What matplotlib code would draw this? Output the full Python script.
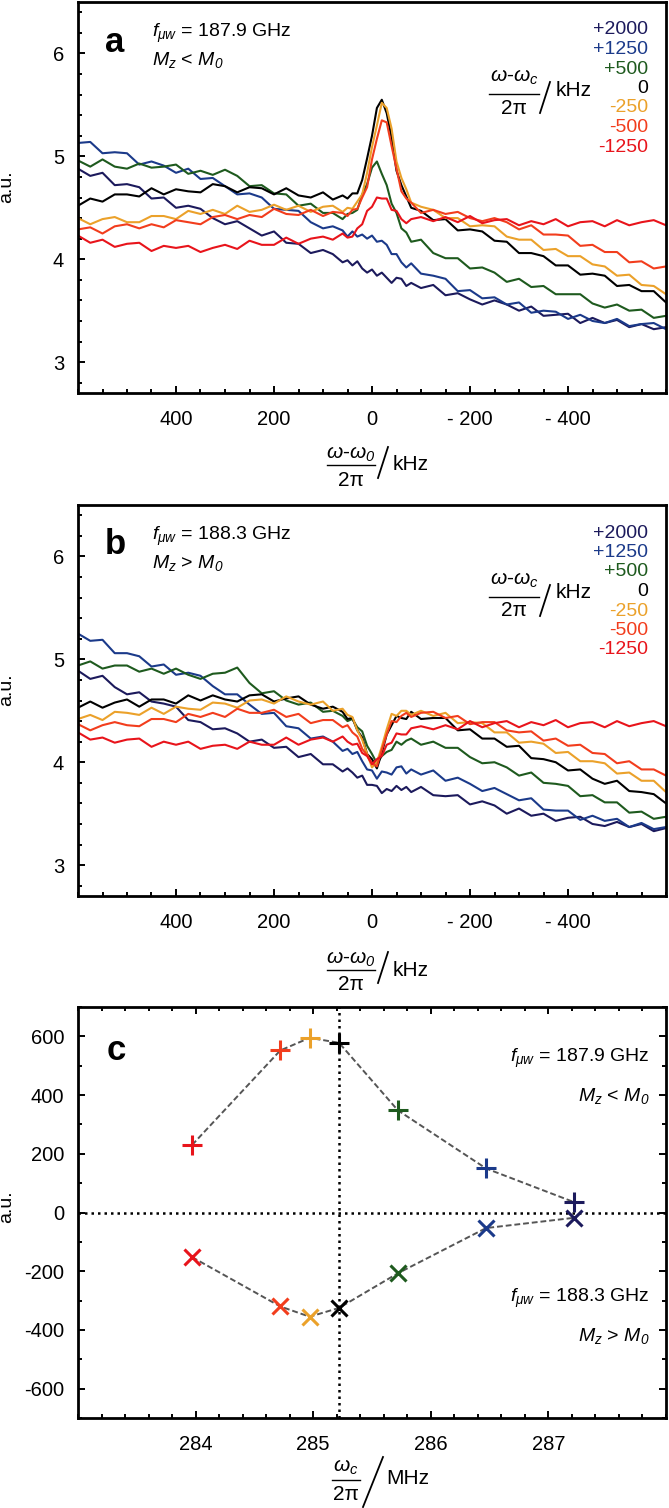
import matplotlib
matplotlib.use("Agg")
import matplotlib.pyplot as plt
from matplotlib.lines import Line2D
from matplotlib.ticker import FixedLocator, MultipleLocator

plt.rcParams["font.family"] = "Liberation Sans"
plt.rcParams["mathtext.fontset"] = "custom"
plt.rcParams["mathtext.rm"] = "Liberation Sans"
plt.rcParams["mathtext.it"] = "Liberation Sans:italic"
plt.rcParams["mathtext.bf"] = "Liberation Sans:bold"
plt.rcParams["mathtext.cal"] = "Liberation Sans:italic"
plt.rcParams["axes.unicode_minus"] = False

W, H = 669, 1508

OFFSET_LABELS = ["+2000", "+1250", "+500", "0", "-250", "-500", "-1250"]
COLORS = ["#1c1a5c", "#1b3a8a", "#1e5a1e", "#000000", "#eba12a", "#f23d1d", "#e8141b"]

# detuning of the probe, kHz
FREQ_KHZ = [600, 575, 550, 525, 500, 475, 450, 425, 400, 375,
            350, 325, 300, 275, 250, 225, 200, 175, 150, 125,
            100, 80, 60, 50, 40, 30, 20, 10, 0, -10,
            -20, -30, -40, -50, -60, -70, -80, -100, -125, -150,
            -175, -200, -225, -250, -275, -300, -325, -350, -375, -400,
            -425, -450, -475, -500, -525, -550, -575, -600]

# panel a, f = 187.9 GHz
A_P2000 = [4.88, 4.81, 4.84, 4.72, 4.73, 4.70, 4.59, 4.60, 4.50, 4.52,
           4.49, 4.40, 4.34, 4.37, 4.30, 4.23, 4.27, 4.16, 4.15, 4.06,
           4.09, 4.05, 3.97, 3.99, 3.94, 3.98, 3.91, 3.87, 3.90, 3.84,
           3.87, 3.82, 3.77, 3.82, 3.81, 3.74, 3.77, 3.72, 3.75, 3.65,
           3.67, 3.61, 3.56, 3.60, 3.56, 3.50, 3.54, 3.45, 3.46, 3.47,
           3.38, 3.43, 3.38, 3.41, 3.34, 3.37, 3.32, 3.34]
A_P1250 = [5.13, 5.14, 5.03, 5.04, 5.03, 4.92, 4.95, 4.91, 4.84, 4.88,
           4.78, 4.79, 4.71, 4.63, 4.64, 4.60, 4.49, 4.48, 4.47, 4.36,
           4.30, 4.32, 4.28, 4.22, 4.27, 4.22, 4.24, 4.20, 4.23, 4.17,
           4.18, 4.14, 4.05, 4.05, 3.97, 3.92, 3.96, 3.86, 3.84, 3.81,
           3.69, 3.70, 3.62, 3.63, 3.56, 3.58, 3.48, 3.50, 3.49, 3.42,
           3.46, 3.40, 3.38, 3.42, 3.35, 3.37, 3.38, 3.32]
A_P500 = [4.96, 4.90, 4.97, 4.90, 4.88, 4.93, 4.89, 4.90, 4.92, 4.83,
          4.86, 4.82, 4.87, 4.81, 4.71, 4.72, 4.64, 4.63, 4.52, 4.54,
          4.45, 4.45, 4.39, 4.44, 4.45, 4.48, 4.63, 4.73, 4.89, 4.95,
          4.83, 4.72, 4.54, 4.45, 4.30, 4.26, 4.17, 4.19, 4.06, 4.01,
          4.01, 3.91, 3.92, 3.87, 3.78, 3.81, 3.73, 3.74, 3.66, 3.66,
          3.66, 3.57, 3.53, 3.56, 3.50, 3.51, 3.43, 3.45]
A_0 = [4.52, 4.59, 4.56, 4.63, 4.63, 4.61, 4.69, 4.63, 4.68, 4.66,
       4.65, 4.73, 4.71, 4.65, 4.70, 4.69, 4.63, 4.69, 4.62, 4.60,
       4.65, 4.58, 4.62, 4.59, 4.64, 4.64, 4.77, 4.98, 5.20, 5.47,
       5.55, 5.42, 5.18, 4.86, 4.72, 4.61, 4.50, 4.47, 4.38, 4.39,
       4.28, 4.29, 4.27, 4.18, 4.17, 4.06, 4.06, 4.03, 3.94, 3.94,
       3.85, 3.86, 3.84, 3.74, 3.75, 3.69, 3.69, 3.58]
A_M250 = [4.40, 4.34, 4.39, 4.41, 4.36, 4.36, 4.42, 4.42, 4.39, 4.47,
          4.44, 4.48, 4.44, 4.52, 4.46, 4.48, 4.53, 4.48, 4.52, 4.46,
          4.51, 4.52, 4.46, 4.50, 4.49, 4.56, 4.63, 4.84, 5.09, 5.30,
          5.52, 5.47, 5.27, 4.95, 4.79, 4.68, 4.55, 4.51, 4.48, 4.40,
          4.40, 4.32, 4.33, 4.32, 4.22, 4.19, 4.19, 4.09, 4.10, 4.03,
          4.03, 3.95, 3.93, 3.84, 3.85, 3.75, 3.74, 3.66]
A_M500 = [4.29, 4.31, 4.25, 4.32, 4.34, 4.30, 4.34, 4.31, 4.38, 4.36,
          4.34, 4.41, 4.43, 4.39, 4.43, 4.41, 4.49, 4.44, 4.43, 4.48,
          4.42, 4.46, 4.45, 4.42, 4.48, 4.49, 4.60, 4.70, 4.97, 5.17,
          5.35, 5.33, 5.10, 4.88, 4.66, 4.59, 4.55, 4.45, 4.48, 4.44,
          4.46, 4.40, 4.37, 4.40, 4.36, 4.29, 4.33, 4.24, 4.24, 4.23,
          4.13, 4.14, 4.07, 4.07, 3.97, 3.98, 3.91, 3.93]
A_M1250 = [4.23, 4.16, 4.19, 4.12, 4.15, 4.16, 4.08, 4.13, 4.11, 4.13,
           4.07, 4.11, 4.14, 4.10, 4.18, 4.14, 4.14, 4.21, 4.15, 4.20,
           4.22, 4.19, 4.25, 4.21, 4.22, 4.30, 4.34, 4.47, 4.51, 4.60,
           4.59, 4.59, 4.48, 4.47, 4.39, 4.35, 4.39, 4.41, 4.37, 4.41,
           4.36, 4.42, 4.35, 4.38, 4.39, 4.33, 4.37, 4.34, 4.39, 4.32,
           4.36, 4.37, 4.32, 4.38, 4.33, 4.36, 4.38, 4.33]

# panel b, f = 188.3 GHz
B_P2000 = [4.89, 4.81, 4.84, 4.73, 4.66, 4.68, 4.59, 4.57, 4.54, 4.41,
           4.39, 4.32, 4.33, 4.28, 4.20, 4.22, 4.14, 4.15, 4.05, 4.08,
           3.98, 3.98, 3.91, 3.94, 3.90, 3.85, 3.87, 3.78, 3.78, 3.77,
           3.70, 3.74, 3.72, 3.77, 3.73, 3.76, 3.71, 3.76, 3.68, 3.67,
           3.68, 3.59, 3.62, 3.58, 3.50, 3.55, 3.48, 3.50, 3.43, 3.46,
           3.47, 3.40, 3.38, 3.42, 3.37, 3.40, 3.33, 3.36]
B_P1250 = [5.25, 5.18, 5.19, 5.06, 5.06, 5.03, 4.93, 4.95, 4.85, 4.87,
           4.84, 4.74, 4.66, 4.66, 4.56, 4.47, 4.48, 4.35, 4.33, 4.23,
           4.25, 4.20, 4.11, 4.13, 4.08, 4.10, 4.01, 3.93, 3.92, 3.84,
           3.91, 3.90, 3.88, 3.95, 3.96, 3.89, 3.93, 3.88, 3.92, 3.82,
           3.85, 3.79, 3.72, 3.75, 3.69, 3.63, 3.65, 3.54, 3.53, 3.53,
           3.44, 3.48, 3.43, 3.45, 3.37, 3.41, 3.35, 3.37]
B_P500 = [4.94, 4.98, 4.91, 4.94, 4.94, 4.88, 4.91, 4.86, 4.91, 4.85,
          4.81, 4.86, 4.87, 4.92, 4.77, 4.67, 4.69, 4.60, 4.56, 4.58,
          4.49, 4.50, 4.45, 4.40, 4.42, 4.34, 4.30, 4.16, 4.08, 3.99,
          4.06, 4.10, 4.12, 4.20, 4.17, 4.21, 4.23, 4.17, 4.20, 4.14,
          4.14, 4.05, 3.99, 4.00, 3.95, 3.87, 3.90, 3.80, 3.79, 3.77,
          3.67, 3.68, 3.61, 3.61, 3.51, 3.52, 3.45, 3.47]
B_0 = [4.53, 4.59, 4.53, 4.58, 4.61, 4.54, 4.61, 4.61, 4.57, 4.65,
       4.60, 4.65, 4.61, 4.59, 4.65, 4.66, 4.59, 4.62, 4.64, 4.56,
       4.52, 4.54, 4.49, 4.42, 4.43, 4.31, 4.24, 4.08, 4.03, 3.94,
       4.09, 4.27, 4.36, 4.45, 4.43, 4.42, 4.49, 4.42, 4.43, 4.43,
       4.31, 4.32, 4.23, 4.23, 4.15, 4.16, 4.04, 4.03, 4.00, 3.92,
       3.93, 3.84, 3.79, 3.82, 3.72, 3.71, 3.69, 3.60]
B_M250 = [4.42, 4.46, 4.41, 4.49, 4.48, 4.46, 4.53, 4.47, 4.54, 4.52,
          4.51, 4.58, 4.57, 4.53, 4.60, 4.61, 4.57, 4.64, 4.59, 4.56,
          4.59, 4.50, 4.52, 4.46, 4.44, 4.31, 4.22, 4.08, 3.95, 4.00,
          4.15, 4.32, 4.47, 4.45, 4.50, 4.50, 4.46, 4.50, 4.45, 4.48,
          4.38, 4.39, 4.38, 4.29, 4.29, 4.19, 4.20, 4.18, 4.09, 4.10,
          4.01, 4.01, 3.99, 3.89, 3.90, 3.82, 3.82, 3.71]
B_M500 = [4.37, 4.31, 4.36, 4.39, 4.36, 4.35, 4.42, 4.42, 4.39, 4.47,
          4.44, 4.48, 4.44, 4.52, 4.48, 4.48, 4.51, 4.44, 4.47, 4.38,
          4.41, 4.41, 4.34, 4.36, 4.29, 4.25, 4.13, 4.07, 3.99, 3.96,
          4.12, 4.27, 4.40, 4.39, 4.45, 4.48, 4.44, 4.48, 4.49, 4.43,
          4.45, 4.37, 4.39, 4.39, 4.31, 4.29, 4.30, 4.21, 4.23, 4.16,
          4.17, 4.09, 4.08, 3.99, 4.01, 3.93, 3.93, 3.87]
B_M1250 = [4.29, 4.22, 4.24, 4.19, 4.22, 4.23, 4.15, 4.20, 4.17, 4.20,
           4.13, 4.16, 4.17, 4.13, 4.20, 4.17, 4.17, 4.24, 4.17, 4.22,
           4.24, 4.20, 4.25, 4.20, 4.17, 4.18, 4.09, 4.06, 3.98, 4.03,
           4.06, 4.17, 4.19, 4.28, 4.27, 4.27, 4.33, 4.35, 4.32, 4.36,
           4.32, 4.40, 4.34, 4.38, 4.40, 4.34, 4.39, 4.36, 4.41, 4.34,
           4.38, 4.39, 4.34, 4.40, 4.35, 4.38, 4.40, 4.35]

A_TRACES = [A_P2000, A_P1250, A_P500, A_0, A_M250, A_M500, A_M1250]
B_TRACES = [B_P2000, B_P1250, B_P500, B_0, B_M250, B_M500, B_M1250]

# panel c, peak / dip amplitude vs carrier frequency (MHz)
C_FREQ = [283.97, 284.72, 284.97, 285.22, 285.72, 286.47, 287.22]
C_UPPER = [230, 552, 595, 578, 348, 150, 35]
C_LOWER = [-152, -320, -355, -325, -207, -53, -18]
C_COLORS = ["#e8141b", "#f23d1d", "#eba12a", "#000000", "#1e5a1e", "#1b3a8a", "#1c1a5c"]
C_CENTER = 285.22

SPINE_W = 2.0


def px(x, y):
    return x / W, 1 - y / H


def axes_px(left, top, right, bottom):
    return [left / W, 1 - bottom / H, (right - left) / W, (bottom - top) / H]


def fraction(fig, xc, y_num, y_line, y_den, half, num, den, slash, unit, unit_xy):
    fig.text(*px(xc, y_num), num, ha="center", va="center", fontsize=15)
    fig.add_artist(Line2D([(xc - half) / W, (xc + half) / W], [1 - y_line / H] * 2,
                          transform=fig.transFigure, color="k", lw=1.0))
    fig.text(*px(xc, y_den), den, ha="center", va="center", fontsize=15)
    (x0, y0), (x1, y1) = slash
    fig.add_artist(Line2D([x0 / W, x1 / W], [1 - y0 / H, 1 - y1 / H],
                          transform=fig.transFigure, color="k", lw=1.3))
    fig.text(*px(*unit_xy), unit, ha="left", va="center", fontsize=15)


def style_axes(ax, all_sides):
    for sp in ax.spines.values():
        sp.set_linewidth(SPINE_W)
    ax.tick_params(which="both", direction="in", width=1.4, labelsize=14.5,
                   top=all_sides, right=all_sides)
    ax.tick_params(which="major", length=5)
    ax.tick_params(which="minor", length=3)
    ax.tick_params(axis="y", pad=10)
    ax.tick_params(axis="x", pad=12)


def spectrum_panel(fig, top, traces, letter, fline, mline, dy):
    ax = fig.add_axes(axes_px(78, top, 666, top + 391))
    for trace, color in zip(traces, COLORS):
        ax.plot(FREQ_KHZ, trace, color=color, lw=1.5)
    ax.set_xlim(600, -600)
    ax.set_ylim(2.7, 6.5)
    ax.xaxis.set_major_locator(FixedLocator([400, 200, 0, -200, -400]))
    ax.set_xticklabels(["400", "200", "0", "- 200", "- 400"])
    ax.xaxis.set_minor_locator(MultipleLocator(50))
    ax.yaxis.set_major_locator(FixedLocator([3, 4, 5, 6]))
    ax.yaxis.set_minor_locator(MultipleLocator(0.2))
    style_axes(ax, False)

    fig.text(*px(115, 42 + dy), letter, fontsize=25, fontweight="bold",
             ha="center", va="center")
    fig.text(*px(152, 37 + dy), fline, fontsize=14, ha="left", va="baseline")
    fig.text(*px(152, 65 + dy), mline, fontsize=14, ha="left", va="baseline")
    for i, (lab, color) in enumerate(zip(OFFSET_LABELS, COLORS)):
        fig.text(*px(648, 30 + 19.5 * i + dy), lab, color=color, fontsize=14,
                 ha="right", va="center")
    fraction(fig, 514, 77 + dy, 94 + dy, 108 + dy, 25,
             r"$\omega$-$\omega_c$", "2π", ((540, 113 + dy), (550, 82 + dy)),
             "kHz", (556, 90 + dy))
    fig.text(*px(7, 187 + dy), "a.u.", fontsize=14, rotation=90,
             ha="center", va="center")
    return ax


fig = plt.figure(figsize=(W / 100, H / 100), dpi=100)

spectrum_panel(fig, 2, A_TRACES, "a", r"$f_{\mu w}$ = 187.9 GHz",
               r"$M_z$ < $M_{\mathcal{0}}$", 0)
fraction(fig, 351, 454, 465, 480, 24, r"$\omega$-$\omega_{\mathcal{0}}$", "2π",
         ((378, 478), (388, 447)), "kHz", (393, 465))

spectrum_panel(fig, 505, B_TRACES, "b", r"$f_{\mu w}$ = 188.3 GHz",
               r"$M_z$ > $M_{\mathcal{0}}$", 503)
fraction(fig, 351, 959, 970, 985, 24, r"$\omega$-$\omega_{\mathcal{0}}$", "2π",
         ((378, 983), (388, 952)), "kHz", (393, 970))

# panel c
axc = fig.add_axes(axes_px(78, 1007, 666, 1418))
axc.axhline(0, color="k", lw=1.8, ls=(0, (1, 1.6)), zorder=1)
axc.axvline(C_CENTER, color="k", lw=1.8, ls=(0, (1, 1.6)), zorder=1)
axc.plot(C_FREQ, C_UPPER, color="#555555", lw=1.4, ls=(0, (3, 1.5)), zorder=2)
axc.plot(C_FREQ, C_LOWER, color="#555555", lw=1.4, ls=(0, (3, 1.5)), zorder=2)
for x, yu, yl, color in zip(C_FREQ, C_UPPER, C_LOWER, C_COLORS):
    axc.plot(x, yu, marker="+", ms=15, mew=2.2, color=color, ls="none", zorder=3)
    axc.plot(x, yl, marker="x", ms=11, mew=2.2, color=color, ls="none", zorder=3)
axc.set_xlim(283, 288)
axc.set_ylim(-700, 700)
axc.xaxis.set_major_locator(FixedLocator([284, 285, 286, 287]))
axc.xaxis.set_minor_locator(MultipleLocator(0.2))
axc.yaxis.set_major_locator(MultipleLocator(200))
axc.yaxis.set_minor_locator(MultipleLocator(100))
style_axes(axc, True)

fig.text(*px(116, 1050), "c", fontsize=25, fontweight="bold", ha="center", va="center")
fig.text(*px(650, 1058), r"$f_{\mu w}$ = 187.9 GHz", fontsize=14, ha="right", va="center")
fig.text(*px(650, 1096), r"$M_z$ < $M_{\mathcal{0}}$", fontsize=14, ha="right", va="center")
fig.text(*px(650, 1298), r"$f_{\mu w}$ = 188.3 GHz", fontsize=14, ha="right", va="center")
fig.text(*px(650, 1336), r"$M_z$ > $M_{\mathcal{0}}$", fontsize=14, ha="right", va="center")
fig.text(*px(7, 1207), "a.u.", fontsize=14, rotation=90, ha="center", va="center")
fraction(fig, 346, 1467, 1480, 1495, 14, r"$\omega_c$", "2π",
         ((363, 1507), (383, 1457)), "MHz", (386, 1479))

fig.savefig("out.png", dpi=100)
